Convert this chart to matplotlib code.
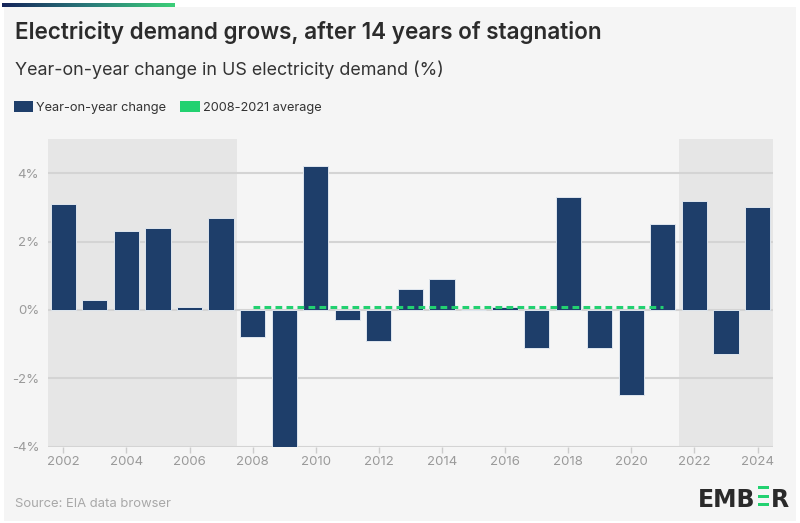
import numpy as np
import matplotlib
matplotlib.use("Agg")
from matplotlib import pyplot as plt
from matplotlib.patches import Rectangle, Patch
from matplotlib.colors import LinearSegmentedColormap

years = list(range(2002, 2025))
change = [3.1, 0.3, 2.3, 2.4, 0.1, 2.7, -0.8, -4.0, 4.2, -0.3, -0.9, 0.6,
          0.9, 0.0, 0.1, -1.1, 3.3, -1.1, -2.5, 2.5, 3.2, -1.3, 3.0]
avg_years = [2008, 2021]
avg_value = 0.1
shaded_spans = [(2001.5, 2007.5), (2021.5, 2024.5)]
y_ticks = [-4, -2, 0, 2, 4]
x_ticks = list(range(2002, 2025, 2))

W, H = 800, 523
NAVY = "#1e3e6a"
GREEN = "#22d170"
BG = "#f5f5f5"
GRAY_TXT = "#9a9a9a"
FONT = ["Inter", "DejaVu Sans"]
plt.rcParams["font.family"] = FONT


def px(x, y):
    return x / W, 1 - y / H


fig = plt.figure(figsize=(W / 100, H / 100), dpi=100, facecolor="white")

# panel background
fig.patches.append(Rectangle(px(4, 521), 792 / W, 514 / H, transform=fig.transFigure,
                             facecolor=BG, edgecolor="none", zorder=-5))

# gradient strip at top
grad_ax = fig.add_axes([2 / W, 1 - 6.7 / H, 173 / W, 3.4 / H])
cmap = LinearSegmentedColormap.from_list("ember", ["#15245a", "#2a7a7a", "#3ccf78"])
grad_ax.imshow(np.linspace(0, 1, 256)[None, :], aspect="auto", cmap=cmap)
grad_ax.axis("off")

ax = fig.add_axes([47.5 / W, 76.3 / H, (773.3 - 47.5) / W, (446.7 - 139) / H])
ax.set_facecolor(BG)

for x0, x1 in shaded_spans:
    ax.axvspan(x0, x1, color="#e6e6e6", zorder=0, lw=0)

for y in y_ticks:
    ax.axhline(y, color="#d4d4d4", lw=1.5, zorder=1)

ax.bar(years, change, width=0.8, color=NAVY, edgecolor="#dfe6ee", linewidth=0.7, zorder=2)
ax.plot(avg_years, [avg_value, avg_value], color=GREEN, lw=2.2,
        dashes=(2.2, 1.4), zorder=3)

ax.set_xlim(2001.5, 2024.5)
ax.set_ylim(-4, 5)
ax.set_yticks(y_ticks)
ax.set_yticklabels([f"{v}%" for v in y_ticks])
ax.set_xticks(x_ticks)
ax.set_xticklabels([str(v) for v in x_ticks])
ax.tick_params(axis="y", length=0, pad=6, labelsize=9.5, labelcolor=GRAY_TXT)
ax.tick_params(axis="x", length=4, width=1, color="#cccccc", pad=3,
               labelsize=9.5, labelcolor=GRAY_TXT)
for s in ax.spines.values():
    s.set_visible(False)

# titles
fig.text(*px(15, 39.3), "Electricity demand grows, after 14 years of stagnation",
         fontsize=16.2, fontweight="semibold", color="#2b2b2b", va="baseline")
fig.text(*px(15, 75), "Year-on-year change in US electricity demand (%)",
         fontsize=12.9, color="#333333", va="baseline")

handles = [Patch(facecolor=NAVY, edgecolor="none"), Patch(facecolor=GREEN, edgecolor="none")]
fig.legend(handles, ["Year-on-year change", "2008-2021 average"], loc="center left",
           bbox_to_anchor=px(14, 107.5), ncol=2, frameon=False, fontsize=9.2,
           handlelength=1.5, handleheight=1.0, handletextpad=0.25,
           columnspacing=1.1, borderpad=0, borderaxespad=0, labelcolor="#333333")

fig.text(*px(15, 507.3), "Source: EIA data browser", fontsize=9.4,
         color="#a8a8a8", va="baseline")

# logo
fig.text(*px(755, 506.7), "EMB", fontsize=17, fontweight="bold", color="#2a2a2a",
         ha="right", va="baseline", family="DejaVu Sans")
for yb in (489, 497.5, 506):
    fig.patches.append(Rectangle(px(757.5, yb + 0.2), 11.5 / W, 3 / H,
                                 transform=fig.transFigure, facecolor=GREEN,
                                 edgecolor="none"))
fig.text(*px(771, 506.7), "R", fontsize=17, fontweight="bold", color="#2a2a2a",
         ha="left", va="baseline", family="DejaVu Sans")

fig.savefig("out.png", dpi=100, facecolor=fig.get_facecolor())
